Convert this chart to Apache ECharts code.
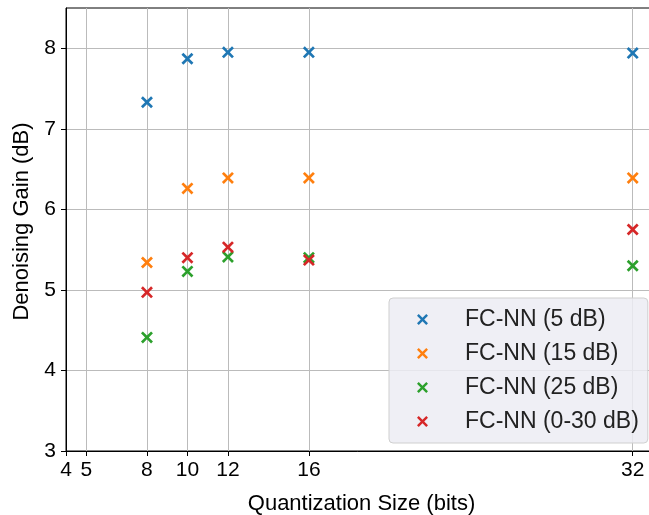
<!DOCTYPE html>
<html>
<head>
<meta charset="utf-8">
<script src="https://cdn.jsdelivr.net/npm/echarts@6/dist/echarts.min.js"></script>
<style>
  html, body { margin: 0; padding: 0; background: #fff; }
  #chart { width: 649px; height: 515px; }
</style>
</head>
<body>
<div id="chart"></div>
<script>
// Quantization sizes (bits) tested for each model
const bits = [8, 10, 12, 16, 32];

// Denoising gain (dB) per training SNR setting
const gain5dB   = [7.33, 7.87, 7.95, 7.95, 7.94];
const gain15dB  = [5.34, 6.26, 6.39, 6.39, 6.39];
const gain25dB  = [4.41, 5.23, 5.41, 5.40, 5.30];
const gain0to30 = [4.97, 5.40, 5.53, 5.37, 5.75];

const seriesNames = ['FC-NN (5 dB)', 'FC-NN (15 dB)', 'FC-NN (25 dB)', 'FC-NN (0-30 dB)'];
const seriesValues = [gain5dB, gain15dB, gain25dB, gain0to30];
const colors = ['#1f77b4', '#ff7f0e', '#2ca02c', '#d62728'];

// Tick positions on the axes
const xTicks = [4, 5, 8, 10, 12, 16, 32];
const yTicks = [3, 4, 5, 6, 7, 8];

// "x" marker drawn as a filled cross outline
const d = 1.9;
const crossPath = 'path://M0,' + d + 'L' + d + ',0L6,' + (6 - d) + 'L' + (12 - d) + ',0L12,' + d +
  'L' + (6 + d) + ',6L12,' + (12 - d) + 'L' + (12 - d) + ',12L6,' + (6 + d) + 'L' + d + ',12L0,' +
  (12 - d) + 'L' + (6 - d) + ',6Z';

const font = 'Liberation Sans, Arial, sans-serif';

const chart = echarts.init(document.getElementById('chart'), null, { renderer: 'canvas' });

const series = seriesNames.map((name, i) => ({
  name: name,
  type: 'scatter',
  symbol: crossPath,
  symbolSize: 12,
  itemStyle: { color: colors[i], opacity: 1 },
  data: bits.map((b, j) => [b, seriesValues[i][j]]),
  z: 3 + i
}));

chart.setOption({
  animation: false,
  backgroundColor: '#ffffff',
  grid: {
    left: 66, top: 8, right: -8, bottom: 64,
    outerBoundsMode: 'none',
    show: true, borderColor: '#000', borderWidth: 1, backgroundColor: 'transparent'
  },
  xAxis: {
    type: 'value',
    min: 4, max: 33.2,
    name: 'Quantization Size (bits)',
    nameLocation: 'middle',
    nameGap: 42,
    nameTextStyle: { fontFamily: font, fontSize: 22, color: '#000' },
    axisLine: { show: true, onZero: false, lineStyle: { color: '#000', width: 1 } },
    axisTick: { show: true, length: 5, lineStyle: { color: '#000' }, customValues: xTicks },
    axisLabel: { fontFamily: font, fontSize: 21, color: '#000', margin: 9, customValues: xTicks },
    splitLine: { show: true, lineStyle: { color: '#bbbbbb', width: 1 } }
  },
  yAxis: {
    type: 'value',
    min: 3, max: 8.5,
    name: 'Denoising Gain (dB)',
    nameLocation: 'middle',
    nameGap: 30,
    nameTextStyle: { fontFamily: font, fontSize: 22, color: '#000', padding: [0, 0, 0, 16] },
    axisLine: { show: true, lineStyle: { color: '#000', width: 1 } },
    axisTick: { show: true, length: 5, lineStyle: { color: '#000' }, customValues: yTicks },
    axisLabel: { fontFamily: font, fontSize: 21, color: '#000', margin: 10, customValues: yTicks },
    splitLine: { show: true, lineStyle: { color: '#bbbbbb', width: 1 } }
  },
  legend: {
    orient: 'vertical',
    left: 389, top: 298,
    padding: [10, 9, 10, 28],
    itemGap: 11,
    itemWidth: 11, itemHeight: 11,
    backgroundColor: 'rgba(236,236,243,0.85)',
    borderColor: '#cfcfcf', borderWidth: 1, borderRadius: 4,
    icon: crossPath,
    textStyle: { fontFamily: font, fontSize: 23, color: '#222', padding: [0, 0, 0, 32] },
    data: seriesNames.map((n, i) => ({ name: n, itemStyle: { color: colors[i] } }))
  },
  series: series
});
</script>
</body>
</html>
